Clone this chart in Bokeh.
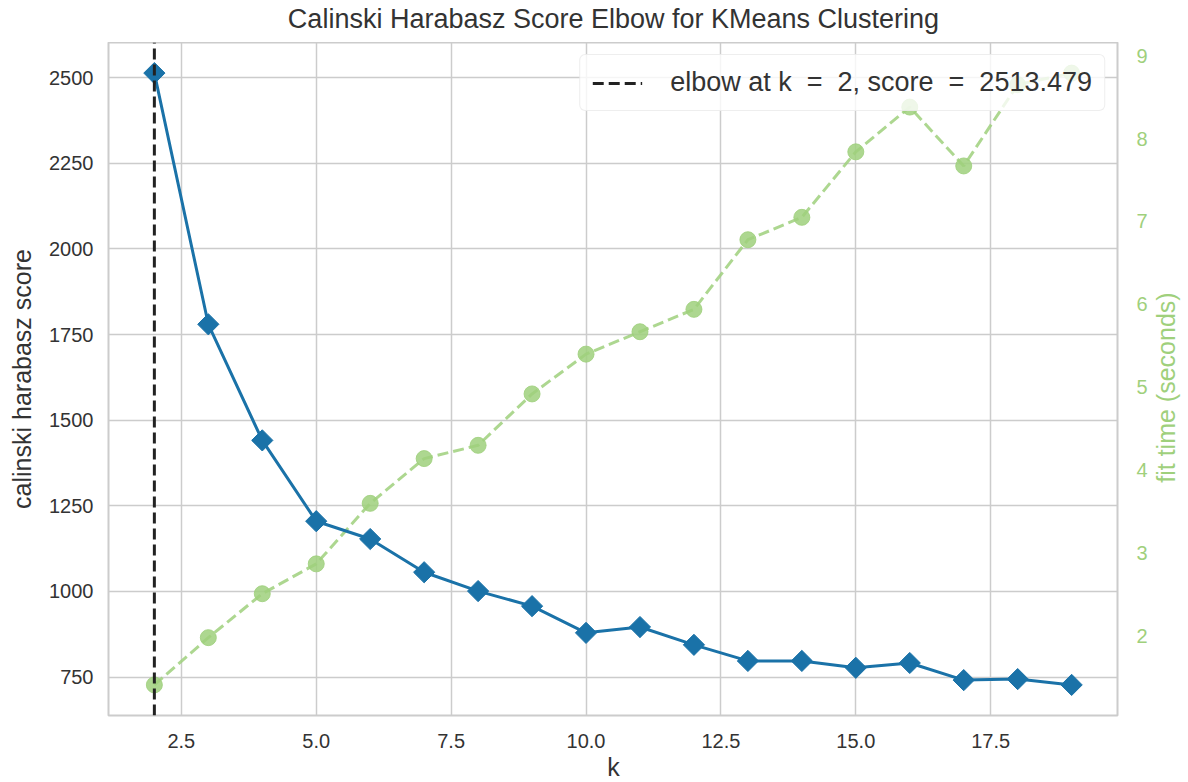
import math

from bokeh.plotting import figure
from bokeh.layouts import column, row
from bokeh.models import (Range1d, LinearAxis, FixedTicker, NumeralTickFormatter,
                          Legend, LegendItem)
from bokeh.core.properties import value
from bokeh.embed import file_html
from bokeh.resources import INLINE

# KMeans elbow search: Calinski-Harabasz score and fit time per k
k_values = list(range(2, 20))
ch_scores = [2513.479, 1780, 1441, 1205, 1153, 1056, 1001, 957, 879,
             896, 844, 797, 797, 777, 791, 741, 744, 727]
fit_times = [1.41, 1.98, 2.51, 2.87, 3.60, 4.14, 4.30, 4.92, 5.40,
             5.67, 5.94, 6.78, 7.05, 7.84, 8.38, 7.67, 8.65, 8.79]
elbow_k = 2
elbow_score = 2513.479

x_ticks = [2.5, 5.0, 7.5, 10.0, 12.5, 15.0, 17.5]
score_ticks = [750, 1000, 1250, 1500, 1750, 2000, 2250, 2500]
time_ticks = [2, 3, 4, 5, 6, 7, 8, 9]

title_text = "Calinski Harabasz Score Elbow for KMeans Clustering"
x_label = "k"
y_label = "calinski harabasz score"
y2_label = "fit time (seconds)"

FONT = "Liberation Sans"
TEXT = "#333333"
BLUE = "#1a72a8"
GREEN = "#9fd07c"
GRID = "#cccccc"
ELBOW = "#222222"


def padded(vals, frac=0.05):
    lo, hi = min(vals), max(vals)
    pad = (hi - lo) * frac
    return lo - pad, hi + pad


def text_panel(width, height):
    """Blank pixel-scaled strip used to hold free-standing text."""
    f = figure(width=width, height=height, output_backend="svg", toolbar_location=None,
               x_range=Range1d(0, width), y_range=Range1d(0, height),
               x_axis_location=None, y_axis_location=None, min_border=0,
               background_fill_color="white", border_fill_color="white")
    f.grid.visible = False
    f.outline_line_color = None
    return f


score_lo, score_hi = padded(ch_scores)

p = figure(width=1150, height=708, output_backend="svg", toolbar_location=None,
           x_range=Range1d(*padded(k_values)), y_range=Range1d(score_lo, score_hi),
           min_border_left=108, min_border_right=32, min_border_top=0,
           min_border_bottom=34, background_fill_color="white",
           border_fill_color="white")
p.extra_y_ranges = {"time": Range1d(*padded(fit_times))}

p.outline_line_color = GRID
p.outline_line_width = 2

p.xgrid.ticker = FixedTicker(ticks=x_ticks)
p.ygrid.ticker = FixedTicker(ticks=score_ticks)
for g in (p.xgrid, p.ygrid):
    g.grid_line_color = GRID
    g.grid_line_width = 1.5

xa = p.xaxis[0]
xa.ticker = FixedTicker(ticks=x_ticks)
xa.formatter = NumeralTickFormatter(format="0.0")
xa.major_label_standoff = 18
xa.major_label_text_line_height = 0.8

ya = p.yaxis[0]
ya.ticker = FixedTicker(ticks=score_ticks)
ya.axis_label = y_label
ya.major_label_standoff = 15
ya.axis_label_standoff = 10

ra = LinearAxis(y_range_name="time", ticker=FixedTicker(ticks=time_ticks))
ra.major_label_standoff = 19
p.add_layout(ra, "right")

for ax in (xa, ya, ra):
    ax.axis_line_color = None
    ax.major_tick_line_color = None
    ax.minor_tick_line_color = None
    ax.major_tick_out = 0
    ax.major_tick_in = 0
    ax.major_label_text_font = FONT
    ax.major_label_text_font_size = "20px"
    ax.major_label_text_color = TEXT
    ax.axis_label_text_font = FONT
    ax.axis_label_text_font_size = "25px"
    ax.axis_label_text_font_style = "normal"
    ax.axis_label_text_color = TEXT
ra.major_label_text_color = GREEN

# fit time series on the secondary axis
p.line(k_values, fit_times, y_range_name="time", line_color=GREEN,
       line_width=3, line_dash="11 5", line_alpha=0.85)
p.scatter(k_values, fit_times, y_range_name="time", marker="circle", size=16,
          fill_color=GREEN, line_color=GREEN, fill_alpha=0.85, line_alpha=0.85)

# score series
p.line(k_values, ch_scores, line_color=BLUE, line_width=3)
p.scatter(k_values, ch_scores, marker="square", angle=math.pi / 4, size=15,
          fill_color=BLUE, line_color=BLUE)

# elbow marker spanning the full score range
elbow_line = p.line([elbow_k, elbow_k], [score_lo, score_hi], line_color=ELBOW,
                    line_width=3, line_dash="11 5")

nb = "\u00a0"
eq = f"{nb}{nb}={nb}{nb}"
legend = Legend(items=[LegendItem(
    label=f"elbow at k{eq}{elbow_k}, score{eq}{elbow_score:.3f}",
    renderers=[elbow_line])])
legend.location = "top_right"
legend.label_text_font = FONT
legend.label_text_font_size = "27px"
legend.label_text_color = TEXT
legend.label_height = 30
legend.glyph_width = 50
legend.glyph_height = 30
legend.label_standoff = 28
legend.padding = 12
legend.margin = 12
legend.border_line_color = "#dddddd"
legend.border_line_width = 1.5
legend.border_radius = 6
legend.background_fill_alpha = 0.8
p.add_layout(legend)

# title strip
top = text_panel(1188, 42)
top.text(x=[613], y=[24], text=[title_text], text_font=value(FONT),
         text_font_size="27px", text_color=TEXT, text_align="center",
         text_baseline="middle")

# secondary axis label strip, reading bottom to top
side = text_panel(38, 708)
side.text(x=[15], y=[345], text=[y2_label], angle=math.pi / 2, text_font=value(FONT),
          text_font_size="25px", text_color=GREEN, text_align="center",
          text_baseline="middle")

# x axis label strip
bottom = text_panel(1188, 32)
bottom.text(x=[613], y=[16], text=[x_label], text_font=value(FONT),
            text_font_size="25px", text_color=TEXT, text_align="center",
            text_baseline="middle")

layout = column(top, row(p, side, spacing=0), bottom, spacing=0)

open("out.html", "w").write(file_html(layout, INLINE))
